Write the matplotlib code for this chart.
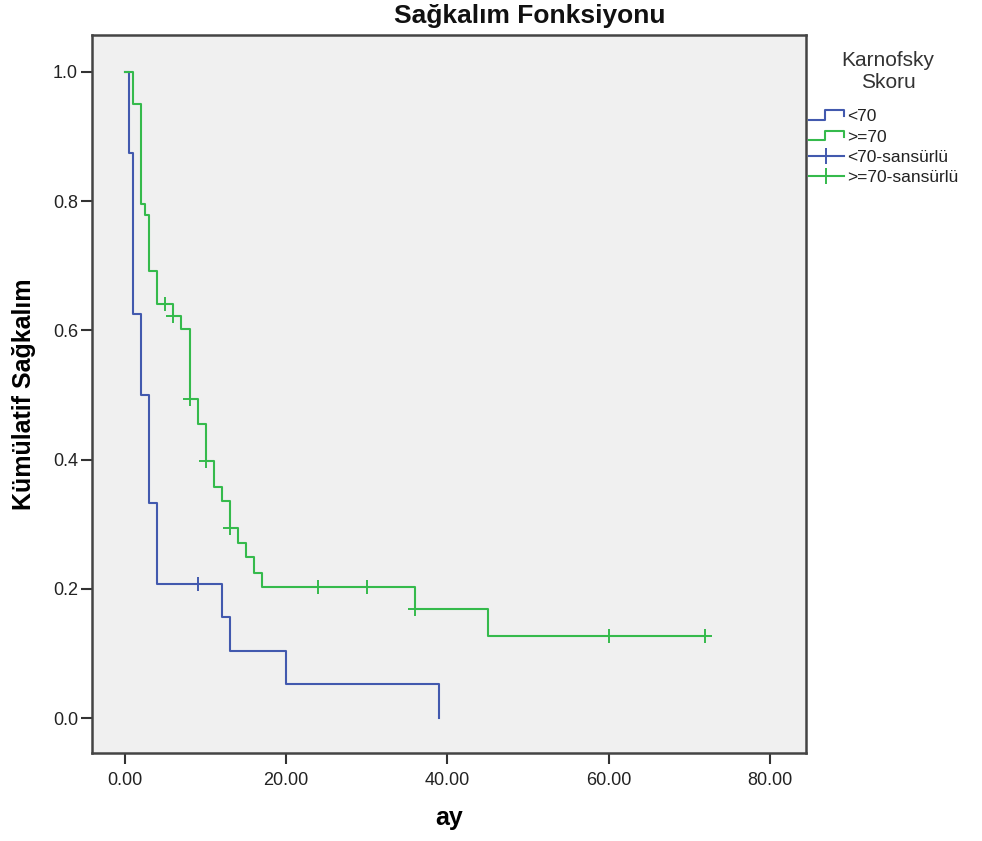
import numpy as np
import matplotlib
matplotlib.use("Agg")
import matplotlib.pyplot as plt
from matplotlib.lines import Line2D
from matplotlib.legend_handler import HandlerBase

plt.rcParams["font.family"] = ["Liberation Sans", "DejaVu Sans"]

# Kaplan-Meier steps
low_t = [0, 0.5, 1, 2, 3, 4, 12, 13, 20, 39]
low_s = [1.0, 0.875, 0.625, 0.5, 0.333, 0.208, 0.156, 0.104, 0.052, 0.0]
low_cens_t = [9]
low_cens_s = [0.208]

high_t = [0, 1, 2, 2.5, 3, 4, 6, 7, 8, 9, 10, 11, 12, 13, 14, 15, 16, 17,
          36, 45, 72]
high_s = [1.0, 0.950, 0.796, 0.779, 0.692, 0.641, 0.622, 0.602, 0.494, 0.455,
          0.398, 0.357, 0.336, 0.294, 0.271, 0.250, 0.224, 0.203, 0.169,
          0.127, 0.127]
high_cens_t = [5, 6, 8, 10, 13, 24, 30, 36, 60, 72]
high_cens_s = [0.641, 0.622, 0.494, 0.398, 0.294, 0.203, 0.203, 0.169,
               0.127, 0.127]

x_ticks = [0, 20, 40, 60, 80]
y_ticks = [0.0, 0.2, 0.4, 0.6, 0.8, 1.0]
labels = ["<70", ">=70", "<70-sansürlü", ">=70-sansürlü"]

BLUE = "#4259AE"
GREEN = "#35BA4C"


class StepHandler(HandlerBase):
    """Legend glyph shaped like a small step."""
    def create_artists(self, legend, orig, xd, yd, w, h, fontsize, trans):
        xs = [xd, xd + w * 0.45, xd + w * 0.45, xd + w, xd + w]
        ys = [yd + h * 0.1, yd + h * 0.1, yd + h * 0.9, yd + h * 0.9,
              yd + h * 0.4]
        ln = Line2D(xs, ys, color=orig.get_color(), lw=orig.get_linewidth(),
                    transform=trans)
        return [ln]


fig = plt.figure(figsize=(9.82, 8.41), dpi=100)
ax = fig.add_axes([92 / 982, 1 - 753 / 841, 714 / 982, 718 / 841])
ax.set_facecolor("#f0f0f0")

ax.step(low_t, low_s, where="post", color=BLUE, lw=1.5)
ax.step(high_t, high_s, where="post", color=GREEN, lw=1.5)
ax.plot(low_cens_t, low_cens_s, ls="none", marker="+", ms=10, mew=1.4,
        color=BLUE)
ax.plot(high_cens_t, high_cens_s, ls="none", marker="+", ms=10, mew=1.4,
        color=GREEN)

ax.set_xlim(-4.1, 84.5)
ax.set_ylim(-0.054, 1.057)
ax.set_xticks(x_ticks)
ax.set_xticklabels([f"{v:.2f}" for v in x_ticks])
ax.set_yticks(y_ticks)
ax.set_yticklabels([f"{v:.1f}" for v in y_ticks])
ax.tick_params(axis="both", direction="out", length=8, width=1.5,
               color="#333333", labelsize=13, labelcolor="#222222")
ax.tick_params(axis="x", pad=6)
ax.tick_params(axis="y", pad=2)
for sp in ax.spines.values():
    sp.set_color("#444444")
    sp.set_linewidth(1.8)

ax.set_xlabel("ay", fontsize=18, fontweight="bold", labelpad=12)
ax.set_ylabel("Kümülatif Sağkalım", fontsize=18, fontweight="bold",
              labelpad=12)
fig.text(530 / 982, 1 - 16 / 841, "Sağkalım Fonksiyonu", ha="center",
         va="center", fontsize=19, fontweight="bold", color="#111111")

# legend title drawn separately so it can sit centered above the entries
fig.text(888 / 982, 1 - 72 / 841, "Karnofsky\nSkoru", ha="center",
         va="center", fontsize=15, color="#333333", linespacing=1.2)

handles = [
    Line2D([], [], color=BLUE, lw=1.5),
    Line2D([], [], color=GREEN, lw=1.5),
    Line2D([], [], color=BLUE, lw=1.5, marker="+", ms=12, mew=1.4),
    Line2D([], [], color=GREEN, lw=1.5, marker="+", ms=12, mew=1.4),
]
leg = fig.legend(handles, labels, loc="upper left",
                 bbox_to_anchor=(809 / 982, 1 - 109 / 841),
                 fontsize=12.5, frameon=False, handlelength=2.0,
                 handletextpad=0.2, labelspacing=0.3, borderaxespad=0,
                 borderpad=0, numpoints=1,
                 handler_map={handles[0]: StepHandler(),
                              handles[1]: StepHandler()})
for t in leg.get_texts():
    t.set_color("#222222")

fig.savefig("out.png", dpi=100)
plt.close(fig)
